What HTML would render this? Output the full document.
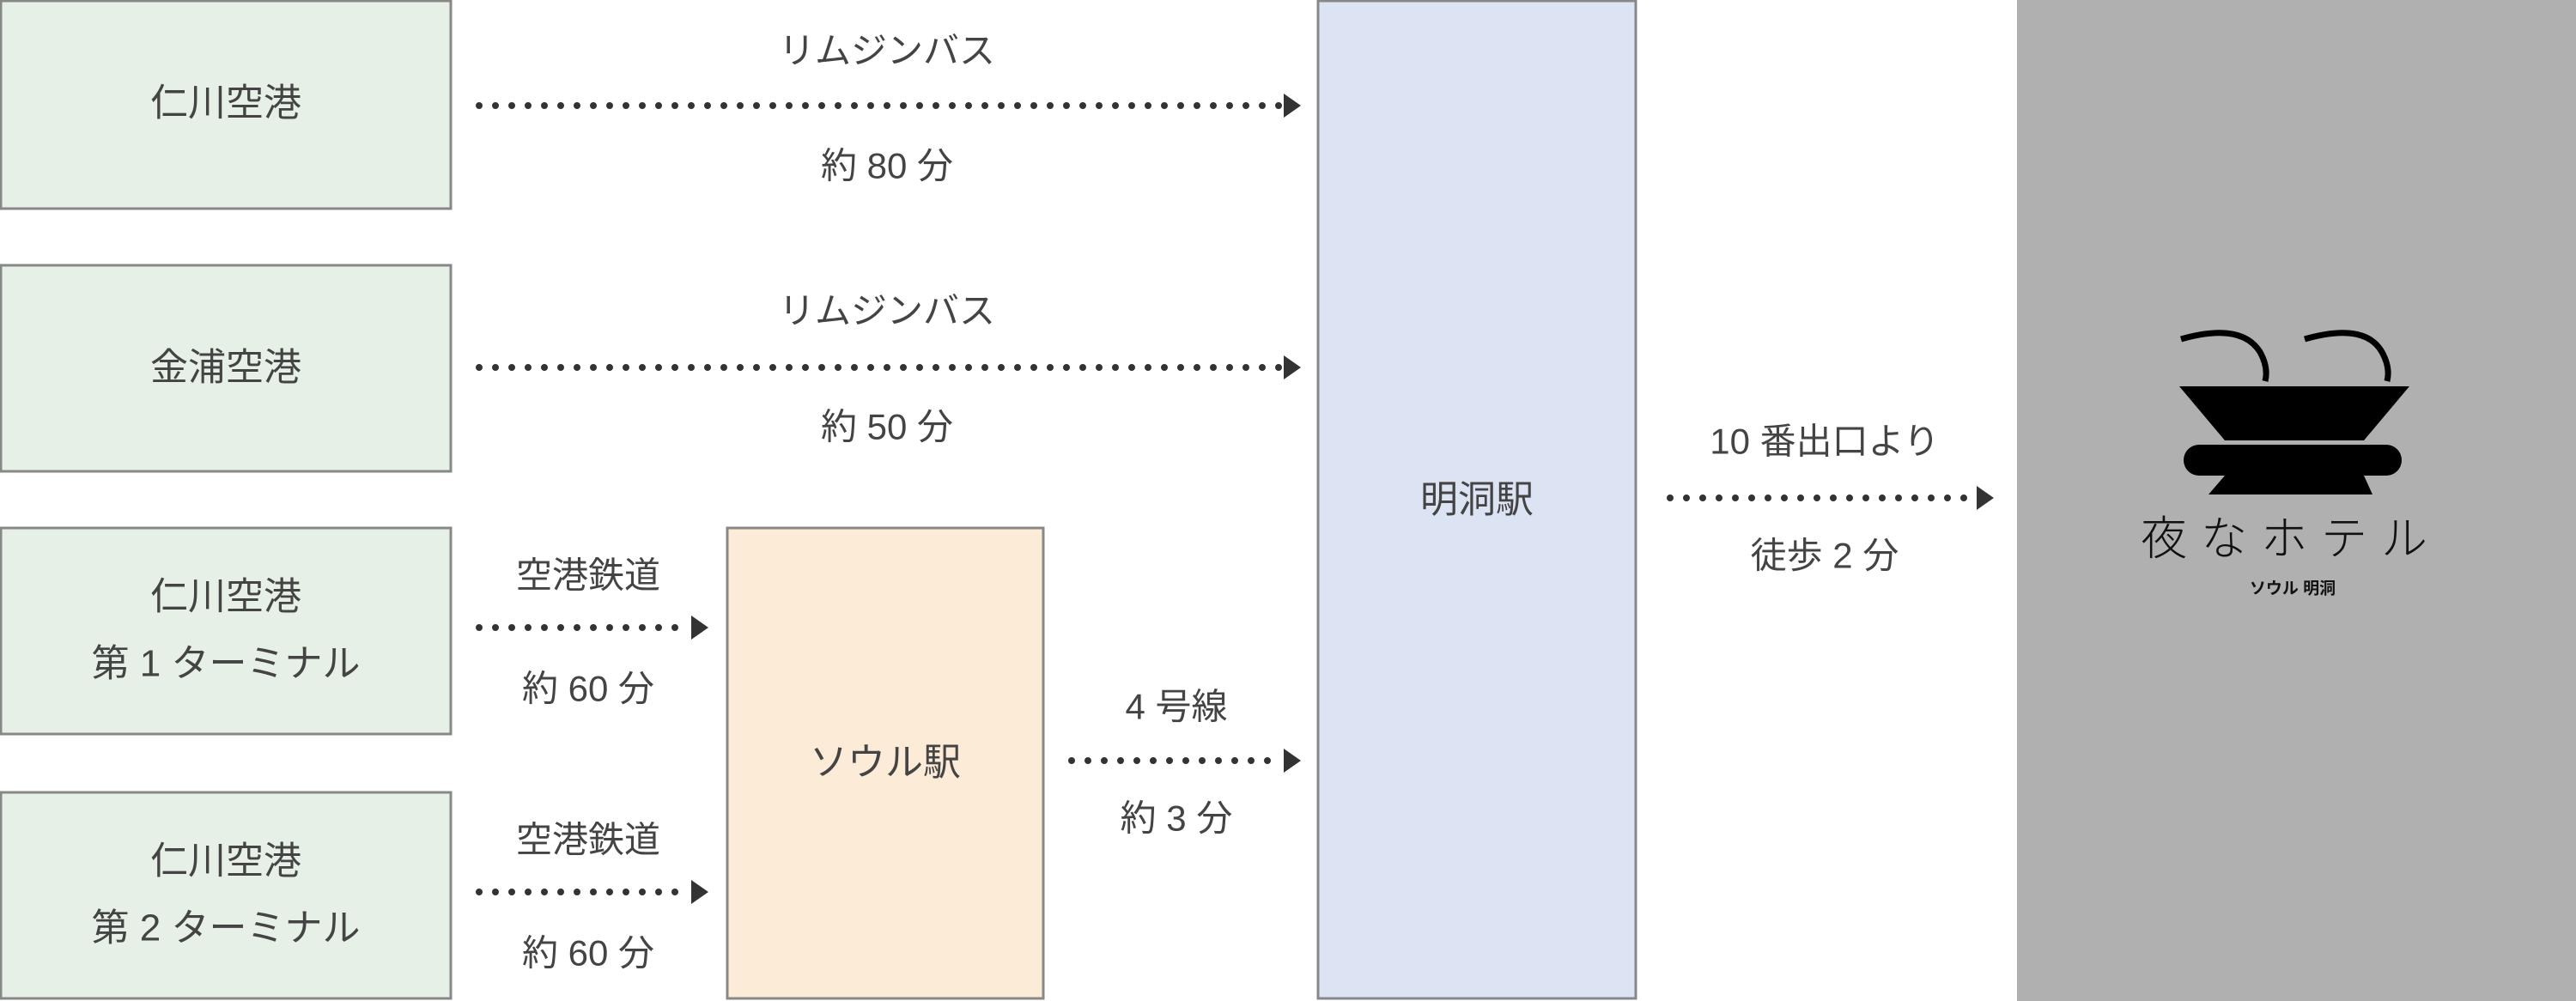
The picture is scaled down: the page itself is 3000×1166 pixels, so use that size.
<!DOCTYPE html>
<html><head><meta charset="utf-8"><style>
html,body{margin:0;padding:0;background:#fff;}
svg{display:block}
text{font-family:"Liberation Sans","Noto Sans CJK JP",sans-serif;fill:#444;text-anchor:middle;dominant-baseline:central;}
</style></head><body>
<svg width="3000" height="1166" viewBox="0 0 3000 1166" xmlns="http://www.w3.org/2000/svg">
<g stroke="#888" stroke-width="3">
<rect x="1" y="1" width="524" height="242" fill="#e6f0e6"/>
<rect x="1" y="309" width="524" height="240" fill="#e6f0e6"/>
<rect x="1" y="615" width="524" height="240" fill="#e6f0e6"/>
<rect x="1" y="923" width="524" height="240" fill="#e6f0e6"/>
<rect x="847" y="615" width="368" height="548" fill="#fcebd7"/>
<rect x="1535" y="1" width="370" height="1162" fill="#dce3f3"/>
</g>
<rect x="2349" y="0" width="651" height="1166" fill="#b0b0b0"/>
<g font-size="44">
<text x="263" y="120">仁川空港</text>
<text x="263" y="428">金浦空港</text>
<text x="263" y="695">仁川空港</text>
<text x="263" y="773">第 1 ターミナル</text>
<text x="263" y="1003">仁川空港</text>
<text x="263" y="1081">第 2 ターミナル</text>
<text x="1031" y="888">ソウル駅</text>
<text x="1720" y="582">明洞駅</text>
</g>
<g stroke="#333" stroke-width="8" stroke-linecap="round" stroke-dasharray="0 19" fill="none">
<line x1="558" y1="123" x2="1490" y2="123"/>
<line x1="558" y1="428" x2="1490" y2="428"/>
<line x1="558" y1="731" x2="800" y2="731"/>
<line x1="558" y1="1039" x2="800" y2="1039"/>
<line x1="1248" y1="886" x2="1490" y2="886"/>
<line x1="1945" y1="580" x2="2300" y2="580"/>
</g>
<g fill="#333">
<polygon points="1495,109 1515,123 1495,137"/>
<polygon points="1495,414 1515,428 1495,442"/>
<polygon points="805,717 825,731 805,745"/>
<polygon points="805,1025 825,1039 805,1053"/>
<polygon points="1495,872 1515,886 1495,900"/>
<polygon points="2302,566 2322,580 2302,594"/>
</g>
<g font-size="42">
<text x="1033" y="59">リムジンバス</text>
<text x="1033" y="193">約 80 分</text>
<text x="1033" y="362">リムジンバス</text>
<text x="1033" y="497">約 50 分</text>
<text x="685" y="670">空港鉄道</text>
<text x="685" y="802">約 60 分</text>
<text x="685" y="978">空港鉄道</text>
<text x="685" y="1110">約 60 分</text>
<text x="1370" y="823">4 号線</text>
<text x="1370" y="953">約 3 分</text>
<text x="2125" y="514">10 番出口より</text>
<text x="2125" y="647">徒歩 2 分</text>
</g>
<g fill="#000">
<path d="M2538 450 L2806 450 L2753 513 L2591 513 Z"/>
<rect x="2543" y="518" width="254" height="36" rx="18"/>
<path d="M2591 554 L2753 554 L2763 576 L2572 576 Z"/>
</g>
<g fill="none" stroke="#000" stroke-width="7">
<path d="M2540 395 Q2610 375 2632 410 Q2642 428 2638 444"/>
<path d="M2684 395 Q2754 375 2774 410 Q2784 428 2780 444"/>
</g>
<text x="2668" y="628" font-size="54" style="fill:#111;font-weight:300;letter-spacing:16px">夜なホテル</text>
<text x="2670" y="686" font-size="19" style="fill:#111;font-weight:bold">ソウル 明洞</text>
</svg>
</body></html>
